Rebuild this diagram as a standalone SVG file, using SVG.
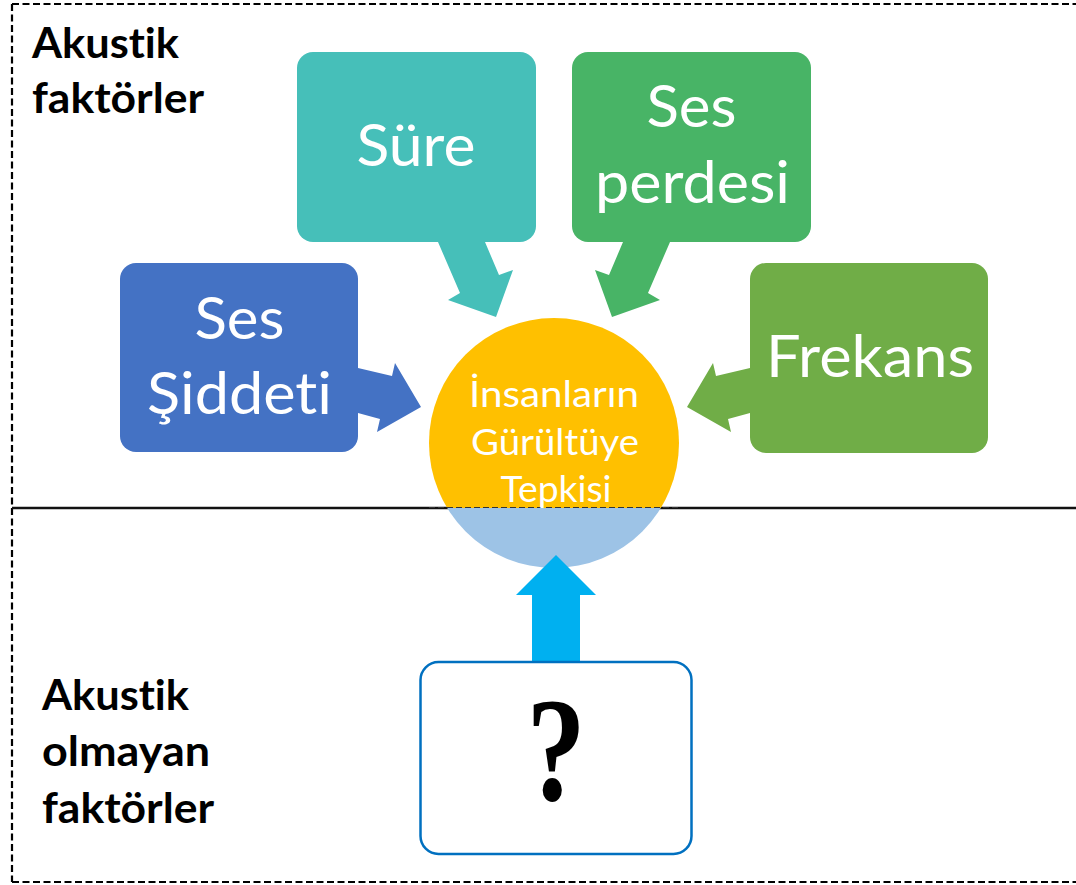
<svg xmlns="http://www.w3.org/2000/svg" width="1076" height="885" viewBox="0 0 1076 885">
  <style>
    text { font-variant-ligatures: none; font-feature-settings: "liga" 0, "clig" 0; }
    .frame { fill: none; stroke: #000; stroke-width: 2.2; stroke-dasharray: 7 3.5; }
    .lbl { font-family: Lato, "Open Sans", "Liberation Sans", sans-serif; font-weight: bold; font-size: 42px; fill: #000; }
    .box-txt { font-family: Lato, "Open Sans", "Liberation Sans", sans-serif; font-size: 58px; fill: #fff; text-anchor: middle; }
    .c-txt { font-family: Lato, "Open Sans", "Liberation Sans", sans-serif; font-size: 37px; fill: #fff; text-anchor: middle; }
    .q { font-family: "Liberation Serif", "DejaVu Serif", serif; font-weight: bold; font-size: 148px; fill: #000; text-anchor: middle; }
  </style>
  <defs>
    <clipPath id="topHalf"><rect x="0" y="0" width="1076" height="508"/></clipPath>
    <clipPath id="bottomHalf"><rect x="0" y="508" width="1076" height="377"/></clipPath>
  </defs>
  <rect width="1076" height="885" fill="#fff"/>

  <g id="frame">
    <line class="frame" x1="12" y1="4" x2="1076" y2="4"/>
    <line class="frame" x1="12" y1="882" x2="1076" y2="882"/>
    <line class="frame" x1="12" y1="4" x2="12" y2="882"/>
    <line x1="12" y1="508" x2="1076" y2="508" stroke="#111" stroke-width="2.6"/>
  </g>

  <g id="labels">
    <text class="lbl" x="32" y="58" textLength="147" lengthAdjust="spacingAndGlyphs">Akustik</text>
    <text class="lbl" x="32" y="113" textLength="172" lengthAdjust="spacingAndGlyphs">faktörler</text>
    <text class="lbl" x="42" y="710" textLength="147" lengthAdjust="spacingAndGlyphs">Akustik</text>
    <text class="lbl" x="42" y="766" textLength="168" lengthAdjust="spacingAndGlyphs">olmayan</text>
    <text class="lbl" x="42" y="823" textLength="172" lengthAdjust="spacingAndGlyphs">faktörler</text>
  </g>

  <g id="center">
    <circle cx="554" cy="443" r="125" fill="#FFC000" clip-path="url(#topHalf)"/>
    <circle cx="554" cy="443" r="125" fill="#9DC3E6" clip-path="url(#bottomHalf)"/>
    <line x1="429" y1="508" x2="679" y2="508" stroke="#333" stroke-width="2" stroke-dasharray="6 3" clip-path="url(#topHalf)"/>
    <text class="c-txt" x="554" y="407" textLength="170" lengthAdjust="spacingAndGlyphs">İnsanların</text>
    <text class="c-txt" x="555" y="455" textLength="168" lengthAdjust="spacingAndGlyphs">Gürültüye</text>
    <text class="c-txt" x="556" y="502" textLength="111" lengthAdjust="spacingAndGlyphs">Tepkisi</text>
  </g>

  <g id="connectors">
    <polygon points="358,368 392,376 395,363 421,407 377,432 380,419 358,413" fill="#4472C4"/>
    <polygon points="750,368 716,376 713,363 687,407 731,432 728,419 750,413" fill="#70AD47"/>
    <polygon points="438,242 485,242 499,275 513,270 496,317 448,300 460,293" fill="#46BFB9"/>
    <polygon points="670,242 623,242 609,275 595,270 612,317 660,300 648,293" fill="#48B466"/>
    <polygon points="532,663 532,595 516,595 556,555 596,595 580,595 580,663" fill="#00B0F0"/>
  </g>

  <g id="node-sure">
    <rect x="297" y="52" width="239" height="190" rx="16" fill="#46BFB9"/>
    <text class="box-txt" x="416" y="166" textLength="119" lengthAdjust="spacingAndGlyphs">Süre</text>
  </g>

  <g id="node-perdesi">
    <rect x="572" y="52" width="239" height="190" rx="16" fill="#48B466"/>
    <text class="box-txt" x="691.5" y="127" textLength="90" lengthAdjust="spacingAndGlyphs">Ses</text>
    <text class="box-txt" x="692.5" y="203" textLength="195" lengthAdjust="spacingAndGlyphs">perdesi</text>
  </g>

  <g id="node-siddet">
    <rect x="120" y="263" width="238" height="189" rx="16" fill="#4472C4"/>
    <text class="box-txt" x="239.5" y="339" textLength="90" lengthAdjust="spacingAndGlyphs">Ses</text>
    <text class="box-txt" x="239.5" y="414" textLength="185" lengthAdjust="spacingAndGlyphs">Şiddeti</text>
  </g>

  <g id="node-frekans">
    <rect x="750" y="263" width="238" height="190" rx="16" fill="#70AD47"/>
    <text class="box-txt" x="870" y="377" textLength="208" lengthAdjust="spacingAndGlyphs">Frekans</text>
  </g>

  <g id="node-unknown">
    <rect x="420.5" y="662" width="271" height="192" rx="18" fill="#fff" stroke="#0070C0" stroke-width="2.5"/>
    <text class="q" x="0" y="800" transform="translate(556 0) scale(0.8 1)">?</text>
  </g>
</svg>
